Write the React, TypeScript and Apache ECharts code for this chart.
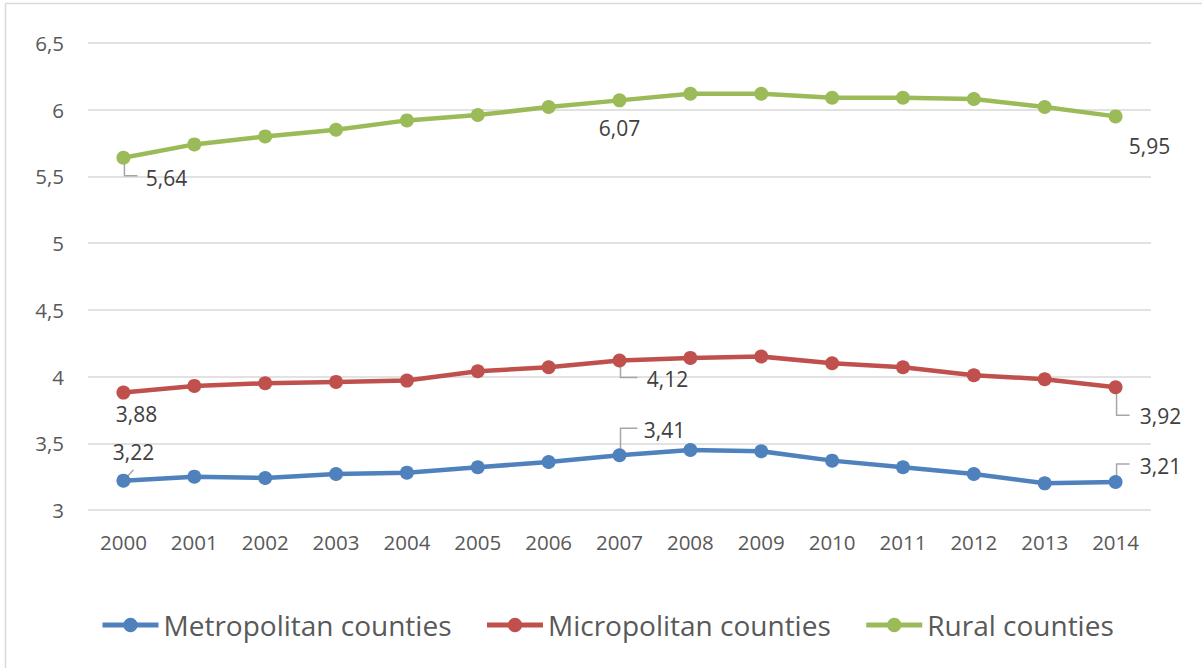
import React, { useEffect, useRef } from "react";
import * as echarts from "echarts";

const years = ["2000","2001","2002","2003","2004","2005","2006","2007","2008","2009","2010","2011","2012","2013","2014"];
const metro = [3.22,3.25,3.24,3.27,3.28,3.32,3.36,3.41,3.45,3.44,3.37,3.32,3.27,3.2,3.21];
const micro = [3.88,3.93,3.95,3.96,3.97,4.04,4.07,4.12,4.14,4.15,4.1,4.07,4.01,3.98,3.92];
const rural = [5.64,5.74,5.8,5.85,5.92,5.96,6.02,6.07,6.12,6.12,6.09,6.09,6.08,6.02,5.95];
const seriesNames = ["Metropolitan counties", "Micropolitan counties", "Rural counties"];
const colors = ["#4F81BD", "#C0504D", "#9BBB59"];

// labelled points: series index, data index, label offset, leader polyline offsets
const labelled = [
  { s: 0, i: 0, off: [10, -29], leader: [[1, -1], [10, -11]] },
  { s: 0, i: 7, off: [45, -25], leader: [[1, 0], [1, -27], [18, -27]] },
  { s: 0, i: 14, off: [45, -16], leader: [[1, 0], [1, -18], [14, -18]] },
  { s: 1, i: 0, off: [13, 21], leader: null },
  { s: 1, i: 7, off: [48, 18], leader: [[1, 0], [1, 17], [18, 17]] },
  { s: 1, i: 14, off: [45, 29], leader: [[1, 0], [1, 28], [14, 28]] },
  { s: 2, i: 0, off: [43, 20], leader: [[1, 0], [1, 18], [14, 18]] },
  { s: 2, i: 7, off: [0, 28], leader: null },
  { s: 2, i: 14, off: [34, 30], leader: null },
];

const FONT = "'Open Sans', 'Noto Sans', sans-serif";
const fmt = (v: number) => String(v).replace(".", ",");

export default function App() {
  const ref = useRef<HTMLDivElement>(null);
  useEffect(() => {
    if (!ref.current) return;
    const chart = echarts.init(ref.current, null, { renderer: "svg" });
    const datas = [metro, micro, rural];
    const series = datas.map((d, s) => ({
      name: seriesNames[s],
      type: "line",
      data: d.map((v, i) => {
        const l = labelled.find((x) => x.s === s && x.i === i);
        if (!l) return v;
        return {
          value: v,
          label: {
            show: true,
            position: "inside",
            offset: l.off,
            formatter: (p: any) => fmt(p.value),
            color: "#404040",
            fontSize: 21,
            fontFamily: FONT,
          },
        };
      }),
      symbol: "circle",
      symbolSize: 14,
      lineStyle: { width: 4.5, color: colors[s] },
      itemStyle: { color: colors[s] },
      emphasis: { disabled: true },
      z: 3,
    }));
    chart.setOption({
      animation: false,
      backgroundColor: "#ffffff",
      grid: { left: 88, right: 51, top: 43, bottom: 158, containLabel: false },
      legend: {
        bottom: 24,
        left: 95,
        itemWidth: 56,
        itemHeight: 18,
        itemGap: 33,
        lineStyle: { width: 5 },
        textStyle: { fontSize: 28, color: "#595959", fontFamily: FONT, padding: [0, 0, 0, 0] },
        data: seriesNames,
      },
      xAxis: {
        type: "category",
        data: years,
        boundaryGap: true,
        axisLine: { show: false },
        axisTick: { show: false },
        axisLabel: { color: "#595959", fontSize: 20.5, fontFamily: FONT, margin: 21 },
      },
      yAxis: {
        type: "value",
        min: 3,
        max: 6.5,
        interval: 0.5,
        axisLine: { show: false },
        axisTick: { show: false },
        splitLine: { lineStyle: { color: "#D9D9D9", width: 1.5 } },
        axisLabel: { color: "#595959", fontSize: 20.5, fontFamily: FONT, margin: 24, formatter: (v: number) => fmt(v) },
      },
      series,
    });
    const elements: any[] = [
      { type: "line", shape: { x1: 5.5, y1: 3.5, x2: 1210, y2: 3.5 }, style: { stroke: "#D9D9D9", lineWidth: 1.5 }, silent: true },
      { type: "line", shape: { x1: 5.5, y1: 3.5, x2: 5.5, y2: 680 }, style: { stroke: "#D9D9D9", lineWidth: 1.5 }, silent: true },
    ];
    labelled.forEach((l) => {
      if (!l.leader) return;
      const p = chart.convertToPixel({ xAxisIndex: 0, yAxisIndex: 0 }, [l.i, datas[l.s][l.i]]) as number[];
      elements.push({
        type: "polyline",
        shape: { points: l.leader.map((o) => [p[0] + o[0], p[1] + o[1]]) },
        style: { stroke: "#A6A6A6", lineWidth: 1.5, fill: null },
        z: 2,
        silent: true,
      });
    });
    chart.setOption({ graphic: { elements } });
    return () => chart.dispose();
  }, []);
  return (
    <div
      ref={ref}
      style={{ position: "fixed", left: 0, top: 0, width: 1202, height: 668, background: "#fff" }}
    />
  );
}
